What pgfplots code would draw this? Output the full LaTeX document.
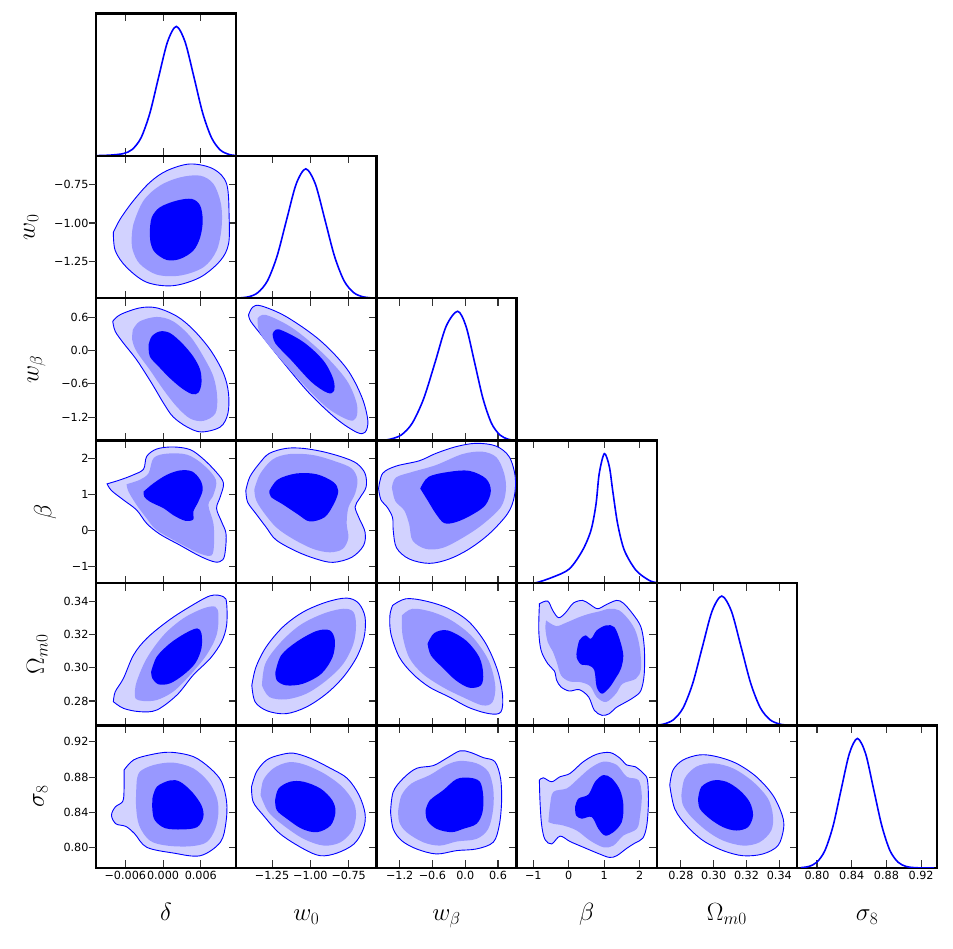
\documentclass[border=0pt]{standalone}
\usepackage{fontspec}
\setsansfont{DejaVu Sans}
\usepackage{pgfplots}
\pgfplotsset{compat=1.18}
\definecolor{cL}{RGB}{210,210,255}
\definecolor{cM}{RGB}{152,152,255}
\definecolor{cB}{RGB}{0,0,255}
\pgfplotsset{
 cp/.style={scale only axis, width=140.2pt, height=142.4pt, anchor=north west,
  axis line style={line width=2.4pt, black},
  tick align=inside, major tick length=7.5pt,
  tick style={line width=1.1pt, black!80},
  xtick pos=both, ytick pos=right,
  scaled ticks=false,
  xticklabel={\relax}, yticklabel={\relax},
  tick label style={font=\sffamily\fontsize{11.2}{13}\selectfont},
  xlabel style={at={(axis description cs:0.5,0)}, anchor=base, yshift=-53pt, font=\fontsize{24}{28}\selectfont},
  ylabel style={font=\fontsize{24}{28}\selectfont},
 },
 ov/.style={hide x axis, ytick pos=left, tick align=outside, y axis line style={draw=none},
  yticklabel style={xshift=3.5pt}, ylabel shift=9pt},
 Xd/.style={xmin=-0.01066,xmax=0.01162,xtick={-0.006,0,0.006}},
 Xw/.style={xmin=-1.484,xmax=-0.569,xtick={-1.25,-1,-0.75}},
 Xb/.style={xmin=-1.625,xmax=0.94,xtick={-1.2,-0.6,0,0.6}},
 XB/.style={xmin=-1.47,xmax=2.485,xtick={-1,0,1,2}},
 XO/.style={xmin=0.2653,xmax=0.3508,xtick={0.28,0.30,0.32,0.34}},
 Xs/.style={xmin=0.777,xmax=0.9385,xtick={0.80,0.84,0.88,0.92}},
 Yw/.style={ymin=-1.484,ymax=-0.569,ytick={-1.25,-1,-0.75}},
 Yb/.style={ymin=-1.625,ymax=0.94,ytick={-1.2,-0.6,0,0.6}},
 YB/.style={ymin=-1.47,ymax=2.485,ytick={-1,0,1,2}},
 YO/.style={ymin=0.2653,ymax=0.3508,ytick={0.28,0.30,0.32,0.34}},
 Ys/.style={ymin=0.777,ymax=0.9385,ytick={0.80,0.84,0.88,0.92}},
 Yd/.style={ymin=0,ymax=1.1,ytick=\empty},
 LXd/.style={xticklabels={−0.006,0.000,0.006},xlabel={$\delta$}},
 LXw/.style={xticklabels={−1.25,−1.00,−0.75},xlabel={$w_0$}},
 LXb/.style={xticklabels={−1.2,−0.6,0.0,0.6},xlabel={$w_\beta$}},
 LXB/.style={xticklabels={−1,0,1,2},xlabel={$\beta$}},
 LXO/.style={xticklabels={0.28,0.30,0.32,0.34},xlabel={$\Omega_{m0}$}},
 LXs/.style={xticklabels={0.80,0.84,0.88,0.92},xlabel={$\sigma_8$}},
 LYw/.style={yticklabels={−1.25,−1.00,−0.75},ylabel={$w_0$}},
 LYb/.style={yticklabels={−1.2,−0.6,0.0,0.6},ylabel={$w_\beta$}},
 LYB/.style={yticklabels={−1,0,1,2},ylabel={$\beta$}},
 LYO/.style={yticklabels={0.28,0.30,0.32,0.34},ylabel={$\Omega_{m0}$}},
 LYs/.style={yticklabels={0.80,0.84,0.88,0.92},ylabel={$\sigma_8$}},
 c1/.style={fill=cL, draw=cB, line width=0.9pt, smooth, tension=0.55},
 c2/.style={fill=cM, draw=none, smooth, tension=0.55},
 c3/.style={fill=cB, draw=none, smooth, tension=0.55},
 dg/.style={cB, line width=1.6pt, smooth, tension=0.5},
}
\begin{document}
\begin{tikzpicture}
\useasboundingbox (0,0) rectangle (953pt,948pt);
% ---------- diagonal panels ----------
\begin{axis}[cp, Xd, Yd, at={(96pt,934.5pt)}]
\addplot[dg] coordinates {(-0.0107,0.002) (-0.0084,0.006) (-0.0063,0.018) (-0.0049,0.05) (-0.0035,0.14) (-0.0021,0.33) (-0.0007,0.61) (0.0007,0.88) (0.0021,1) (0.0035,0.88) (0.0049,0.61) (0.0063,0.33) (0.0077,0.14) (0.0091,0.045) (0.0105,0.011) (0.0116,0.003)};
\end{axis}
\begin{axis}[cp, Xw, Yd, at={(236.2pt,792.1pt)}]
\addplot[dg] coordinates {(-1.484,0.001) (-1.405,0.011) (-1.3425,0.044) (-1.28,0.135) (-1.2175,0.325) (-1.155,0.607) (-1.0925,0.883) (-1.03,1) (-0.9675,0.883) (-0.905,0.607) (-0.8425,0.325) (-0.78,0.135) (-0.7175,0.044) (-0.655,0.011) (-0.58,0.0015)};
\end{axis}
\begin{axis}[cp, Xb, Yd, at={(376.4pt,649.7pt)}]
\addplot[dg] coordinates {(-1.625,0.0005) (-1.55,0.002) (-1.38,0.011) (-1.17,0.044) (-0.97,0.135) (-0.76,0.325) (-0.55,0.607) (-0.35,0.883) (-0.14,1) (0.015,0.883) (0.17,0.607) (0.325,0.325) (0.48,0.135) (0.635,0.044) (0.79,0.011) (0.93,0.002)};
\end{axis}
\begin{axis}[cp, XB, Yd, at={(516.6pt,507.3pt)}]
\addplot[dg] coordinates {(-1.4,0.0) (-0.97,0.0) (-0.45,0.046) (0.02,0.11) (0.39,0.253) (0.63,0.41) (0.77,0.61) (0.86,0.845) (1.005,1.0) (1.146,0.9) (1.24,0.716) (1.38,0.458) (1.57,0.253) (1.90,0.098) (2.27,0.021) (2.46,0.005)};
\end{axis}
\begin{axis}[cp, XO, Yd, at={(656.8pt,364.9pt)}]
\addplot[dg] coordinates {(0.2648,0.003) (0.2695,0.011) (0.2754,0.044) (0.2813,0.135) (0.2872,0.325) (0.2931,0.607) (0.2990,0.883) (0.3049,1) (0.3108,0.883) (0.3167,0.607) (0.3226,0.325) (0.3285,0.135) (0.3344,0.044) (0.3403,0.011) (0.3462,0.002) (0.3521,0.0003)};
\end{axis}
\begin{axis}[cp, Xs, Yd, LXs, at={(797pt,222.5pt)}]
\addplot[dg] coordinates {(0.7812,0.002) (0.7905,0.011) (0.7999,0.044) (0.8092,0.135) (0.8186,0.325) (0.8279,0.607) (0.8373,0.883) (0.8466,1) (0.8560,0.883) (0.8653,0.607) (0.8747,0.325) (0.8840,0.135) (0.8934,0.044) (0.9027,0.011) (0.9121,0.002) (0.9214,0.0003) (0.935,0)};
\end{axis}
% ---------- row 1 ----------
\begin{axis}[cp, Xd, Yw, at={(96pt,792.1pt)}]
\addplot[c1] coordinates {(-0.0079,-1.060) (-0.0068,-0.974) (-0.0047,-0.856) (-0.0021,-0.739) (0.0006,-0.664) (0.0043,-0.621) (0.0080,-0.653) (0.0101,-0.749) (0.0105,-0.964) (0.0104,-1.135) (0.0091,-1.242) (0.0059,-1.349) (0.0016,-1.403) (-0.0026,-1.381) (-0.0058,-1.285) (-0.0076,-1.178) (-0.0079,-1.060)} --cycle;
\addplot[c2] coordinates {(-0.0050,-1.114) (-0.0047,-1.006) (-0.0031,-0.856) (-0.0005,-0.760) (0.0027,-0.707) (0.0059,-0.696) (0.0080,-0.749) (0.0092,-0.878) (0.0093,-1.028) (0.0085,-1.178) (0.0064,-1.285) (0.0027,-1.338) (-0.0010,-1.332) (-0.0037,-1.263) (-0.0048,-1.178) (-0.0050,-1.114)} --cycle;
\addplot[c3] coordinates {(-0.0021,-1.049) (-0.0018,-0.964) (-0.0005,-0.899) (0.0022,-0.856) (0.0046,-0.846) (0.0059,-0.889) (0.0063,-0.985) (0.0059,-1.092) (0.0048,-1.178) (0.0027,-1.231) (0.0006,-1.238) (-0.0013,-1.189) (-0.0020,-1.124) (-0.0021,-1.049)} --cycle;
\end{axis}
\begin{axis}[cp, Xd, Yw, LYw, ov, at={(96pt,792.1pt)}]
\end{axis}
% ---------- row 2 ----------
\begin{axis}[cp, Xd, Yb, at={(96pt,649.7pt)}]
\addplot[c1] coordinates {(-0.0080,0.525) (-0.0068,0.646) (-0.0037,0.767) (-0.0010,0.767) (0.0022,0.616) (0.0048,0.374) (0.0075,0.012) (0.0096,-0.411) (0.0104,-0.773) (0.0103,-1.136) (0.0091,-1.377) (0.0061,-1.468) (0.0038,-1.377) (0.0016,-1.196) (0.0001,-0.954) (-0.0018,-0.592) (-0.0042,-0.169) (-0.0063,0.133) (-0.0076,0.344) (-0.0080,0.525)} --cycle;
\addplot[c2] coordinates {(-0.0048,0.374) (-0.0037,0.525) (-0.0010,0.604) (0.0016,0.525) (0.0043,0.254) (0.0064,-0.109) (0.0080,-0.471) (0.0086,-0.834) (0.0083,-1.136) (0.0064,-1.268) (0.0043,-1.226) (0.0022,-1.015) (0.0001,-0.713) (-0.0021,-0.350) (-0.0042,-0.018) (-0.0049,0.193) (-0.0048,0.374)} --cycle;
\addplot[c3] coordinates {(-0.0023,0.103) (-0.0018,0.254) (-0.0005,0.344) (0.0011,0.314) (0.0030,0.133) (0.0048,-0.109) (0.0059,-0.350) (0.0061,-0.592) (0.0056,-0.761) (0.0046,-0.785) (0.0030,-0.683) (0.0011,-0.501) (-0.0007,-0.290) (-0.0021,-0.109) (-0.0023,0.103)} --cycle;
\end{axis}
\begin{axis}[cp, Xd, Yb, LYb, ov, at={(96pt,649.7pt)}]
\end{axis}
\begin{axis}[cp, Xw, Yb, at={(236.2pt,649.7pt)}]
\addplot[c1] coordinates {(-1.4035,0.640) (-1.377,0.779) (-1.322,0.804) (-1.158,0.610) (-0.939,0.187) (-0.763,-0.326) (-0.664,-0.840) (-0.625,-1.263) (-0.643,-1.474) (-0.697,-1.474) (-0.829,-1.233) (-1.004,-0.779) (-1.180,-0.205) (-1.311,0.248) (-1.388,0.520) (-1.4035,0.640)} --cycle;
\addplot[c2] coordinates {(-1.344,0.580) (-1.289,0.640) (-1.114,0.399) (-0.917,-0.054) (-0.763,-0.538) (-0.697,-0.961) (-0.702,-1.214) (-0.752,-1.251) (-0.895,-1.021) (-1.070,-0.538) (-1.246,0.006) (-1.333,0.338) (-1.344,0.580)} --cycle;
\addplot[c3] coordinates {(-1.246,0.296) (-1.206,0.381) (-1.048,0.157) (-0.917,-0.175) (-0.851,-0.508) (-0.846,-0.731) (-0.890,-0.761) (-0.993,-0.568) (-1.125,-0.175) (-1.228,0.127) (-1.246,0.296)} --cycle;
\end{axis}
% ---------- row 3 ----------
\begin{axis}[cp, Xd, YB, at={(96pt,507.3pt)}]
\addplot[c1] coordinates {(-0.0089,1.286) (-0.0068,1.398) (-0.0047,1.538) (-0.0031,1.696) (-0.0026,2.050) (-0.0010,2.255) (0.0016,2.311) (0.0043,2.237) (0.0064,1.976) (0.0085,1.603) (0.0096,1.305) (0.0091,0.932) (0.0085,0.606) (0.0093,0.233) (0.0100,-0.093) (0.0099,-0.559) (0.0095,-0.820) (0.0083,-0.885) (0.0059,-0.727) (0.0027,-0.419) (-0.0005,-0.112) (-0.0026,0.186) (-0.0042,0.559) (-0.0063,0.839) (-0.0082,1.100) (-0.0089,1.286)} --cycle;
\addplot[c2] coordinates {(-0.0058,1.277) (-0.0037,1.398) (-0.0023,1.584) (-0.0015,2.004) (0.0006,2.125) (0.0038,2.097) (0.0064,1.817) (0.0084,1.398) (0.0080,0.979) (0.0072,0.699) (0.0080,0.186) (0.0081,-0.373) (0.0077,-0.699) (0.0059,-0.652) (0.0027,-0.373) (-0.0010,0.000) (-0.0026,0.326) (-0.0042,0.699) (-0.0055,1.072) (-0.0058,1.277)} --cycle;
\addplot[c3] coordinates {(-0.0031,1.072) (-0.0015,1.305) (0.0006,1.538) (0.0027,1.659) (0.0046,1.631) (0.0059,1.398) (0.0063,1.118) (0.0056,0.792) (0.0048,0.513) (0.0048,0.298) (0.0035,0.261) (0.0016,0.419) (0.0001,0.606) (-0.0021,0.792) (-0.0030,0.932) (-0.0031,1.072)} --cycle;
\end{axis}
\begin{axis}[cp, Xd, YB, LYB, ov, at={(96pt,507.3pt)}]
\end{axis}
\begin{axis}[cp, Xw, YB, at={(236.2pt,507.3pt)}]
\addplot[c1] coordinates {(-1.421,1.108) (-1.395,1.480) (-1.333,1.853) (-1.268,2.132) (-1.158,2.272) (-1.048,2.272) (-0.917,2.179) (-0.785,2.020) (-0.697,1.853) (-0.643,1.574) (-0.636,1.201) (-0.680,0.875) (-0.708,0.642) (-0.680,0.317) (-0.643,-0.056) (-0.653,-0.428) (-0.730,-0.754) (-0.851,-0.894) (-0.961,-0.801) (-1.092,-0.587) (-1.224,-0.270) (-1.289,0.084) (-1.355,0.456) (-1.410,0.782) (-1.421,1.108)} --cycle;
\addplot[c2] coordinates {(-1.366,1.127) (-1.329,1.555) (-1.246,1.965) (-1.136,2.114) (-0.982,2.086) (-0.829,1.899) (-0.730,1.713) (-0.693,1.406) (-0.708,1.015) (-0.752,0.624) (-0.763,0.177) (-0.752,-0.214) (-0.789,-0.521) (-0.873,-0.615) (-0.982,-0.521) (-1.114,-0.242) (-1.224,0.084) (-1.311,0.531) (-1.355,0.847) (-1.366,1.127)} --cycle;
\addplot[c3] coordinates {(-1.268,1.089) (-1.213,1.406) (-1.092,1.574) (-0.961,1.555) (-0.851,1.341) (-0.818,1.089) (-0.846,0.736) (-0.906,0.363) (-1.004,0.242) (-1.081,0.438) (-1.180,0.717) (-1.257,0.922) (-1.268,1.089)} --cycle;
\end{axis}
\begin{axis}[cp, Xb, YB, at={(376.4pt,507.3pt)}]
\addplot[c1] coordinates {(-1.585,1.155) (-1.512,1.574) (-1.268,1.778) (-0.841,1.927) (-0.537,2.132) (-0.171,2.318) (0.195,2.412) (0.561,2.337) (0.805,2.039) (0.915,1.480) (0.896,0.922) (0.774,0.456) (0.439,-0.102) (0.073,-0.521) (-0.293,-0.801) (-0.658,-0.922) (-1.024,-0.801) (-1.256,-0.493) (-1.317,-0.009) (-1.329,0.345) (-1.421,0.624) (-1.543,0.847) (-1.585,1.155)} --cycle;
\addplot[c2] coordinates {(-1.341,1.183) (-1.268,1.462) (-0.963,1.620) (-0.537,1.806) (-0.049,2.114) (0.317,2.179) (0.573,2.020) (0.713,1.574) (0.744,1.108) (0.652,0.642) (0.317,0.158) (-0.049,-0.214) (-0.415,-0.493) (-0.719,-0.521) (-0.963,-0.289) (-1.024,0.158) (-1.116,0.549) (-1.280,0.810) (-1.341,1.183)} --cycle;
\addplot[c3] coordinates {(-0.823,1.155) (-0.671,1.480) (-0.293,1.620) (0.073,1.648) (0.378,1.434) (0.469,1.089) (0.366,0.689) (0.104,0.410) (-0.171,0.223) (-0.384,0.196) (-0.537,0.456) (-0.689,0.829) (-0.823,1.155)} --cycle;
\end{axis}
% ---------- row 4 ----------
\begin{axis}[cp, Xd, YO, at={(96pt,364.9pt)}]
\addplot[c1] coordinates {(-0.0079,0.2796) (-0.0076,0.2856) (-0.0063,0.2936) (-0.0047,0.3076) (-0.0026,0.3176) (0.0006,0.3276) (0.0038,0.3356) (0.0075,0.3432) (0.0096,0.3426) (0.0101,0.3386) (0.0101,0.3256) (0.0093,0.3156) (0.0075,0.3056) (0.0048,0.2956) (0.0022,0.2836) (-0.0010,0.2746) (-0.0037,0.2736) (-0.0063,0.2756) (-0.0079,0.2796)} --cycle;
\addplot[c2] coordinates {(-0.0045,0.2846) (-0.0042,0.2916) (-0.0026,0.3056) (0.0001,0.3196) (0.0032,0.3296) (0.0064,0.3356) (0.0083,0.3366) (0.0088,0.3316) (0.0085,0.3196) (0.0069,0.3076) (0.0043,0.2956) (0.0016,0.2856) (-0.0010,0.2806) (-0.0031,0.2800) (-0.0043,0.2812) (-0.0045,0.2846)} --cycle;
\addplot[c3] coordinates {(-0.0019,0.2976) (-0.0010,0.3066) (0.0011,0.3146) (0.0035,0.3206) (0.0054,0.3236) (0.0061,0.3206) (0.0061,0.3116) (0.0051,0.3026) (0.0032,0.2956) (0.0011,0.2906) (-0.0007,0.2900) (-0.0017,0.2936) (-0.0019,0.2976)} --cycle;
\end{axis}
\begin{axis}[cp, Xd, YO, LYO, ov, at={(96pt,364.9pt)}]
\end{axis}
\begin{axis}[cp, Xw, YO, at={(236.2pt,364.9pt)}]
\addplot[c1] coordinates {(-1.382,0.2894) (-1.355,0.3004) (-1.289,0.3124) (-1.180,0.3244) (-1.048,0.3334) (-0.895,0.3394) (-0.763,0.3418) (-0.686,0.3388) (-0.643,0.3304) (-0.649,0.3184) (-0.697,0.3064) (-0.785,0.2944) (-0.895,0.2844) (-1.026,0.2764) (-1.158,0.2724) (-1.279,0.2740) (-1.360,0.2794) (-1.382,0.2894)} --cycle;
\addplot[c2] coordinates {(-1.316,0.2894) (-1.294,0.3024) (-1.202,0.3144) (-1.070,0.3254) (-0.917,0.3324) (-0.785,0.3354) (-0.719,0.3334) (-0.702,0.3254) (-0.719,0.3144) (-0.785,0.3024) (-0.895,0.2924) (-1.026,0.2844) (-1.158,0.2810) (-1.268,0.2824) (-1.316,0.2894)} --cycle;
\addplot[c3] coordinates {(-1.228,0.2974) (-1.191,0.3074) (-1.092,0.3154) (-0.961,0.3220) (-0.873,0.3224) (-0.840,0.3164) (-0.855,0.3064) (-0.928,0.2964) (-1.048,0.2904) (-1.158,0.2894) (-1.219,0.2924) (-1.228,0.2974)} --cycle;
\end{axis}
\begin{axis}[cp, Xb, YO, at={(376.4pt,364.9pt)}]
\addplot[c1] coordinates {(-1.329,0.3374) (-1.085,0.3414) (-0.719,0.3400) (-0.293,0.3354) (0.073,0.3274) (0.378,0.3144) (0.591,0.2984) (0.683,0.2834) (0.652,0.2734) (0.439,0.2724) (0.073,0.2760) (-0.293,0.2824) (-0.658,0.2884) (-0.963,0.2964) (-1.207,0.3064) (-1.360,0.3204) (-1.378,0.3314) (-1.329,0.3374)} --cycle;
\addplot[c2] coordinates {(-1.158,0.3314) (-0.963,0.3354) (-0.598,0.3334) (-0.232,0.3280) (0.134,0.3184) (0.427,0.3044) (0.549,0.2894) (0.500,0.2794) (0.317,0.2774) (-0.049,0.2824) (-0.415,0.2884) (-0.780,0.2964) (-1.024,0.3060) (-1.146,0.3194) (-1.158,0.3314)} --cycle;
\addplot[c3] coordinates {(-0.689,0.3144) (-0.567,0.3208) (-0.323,0.3224) (0.012,0.3164) (0.256,0.3064) (0.329,0.2964) (0.287,0.2894) (0.073,0.2880) (-0.171,0.2924) (-0.415,0.3000) (-0.628,0.3074) (-0.689,0.3144)} --cycle;
\end{axis}
\begin{axis}[cp, XB, YO, at={(516.6pt,364.9pt)}]
\addplot[c1] coordinates {(-0.826,0.3384) (-0.592,0.3400) (-0.451,0.3344) (-0.282,0.3300) (-0.075,0.3334) (0.131,0.3388) (0.394,0.3404) (0.601,0.3380) (0.817,0.3354) (1.070,0.3380) (1.352,0.3404) (1.540,0.3388) (1.803,0.3324) (2.038,0.3244) (2.131,0.3124) (2.131,0.2964) (2.038,0.2864) (1.850,0.2824) (1.615,0.2794) (1.333,0.2760) (1.146,0.2724) (0.939,0.2714) (0.723,0.2744) (0.563,0.2824) (0.300,0.2868) (0.019,0.2860) (-0.216,0.2884) (-0.338,0.2924) (-0.404,0.2980) (-0.592,0.3024) (-0.779,0.3104) (-0.845,0.3224) (-0.826,0.3384)} --cycle;
\addplot[c2] coordinates {(-0.638,0.3284) (-0.357,0.3250) (-0.075,0.3270) (0.300,0.3304) (0.582,0.3324) (0.864,0.3338) (1.146,0.3354) (1.427,0.3344) (1.709,0.3284) (1.897,0.3214) (2.009,0.3114) (2.038,0.2994) (1.897,0.2934) (1.521,0.2904) (1.333,0.2844) (1.052,0.2794) (0.789,0.2824) (0.601,0.2890) (0.319,0.2914) (0.019,0.2918) (-0.216,0.2954) (-0.338,0.3034) (-0.451,0.3098) (-0.592,0.3154) (-0.657,0.3234) (-0.638,0.3284)} --cycle;
\addplot[c3] coordinates {(0.225,0.3094) (0.300,0.3164) (0.469,0.3194) (0.629,0.3174) (0.789,0.3224) (1.052,0.3254) (1.286,0.3244) (1.446,0.3164) (1.540,0.3074) (1.474,0.2994) (1.333,0.2940) (1.146,0.2880) (0.939,0.2844) (0.789,0.2884) (0.723,0.2984) (0.563,0.3014) (0.347,0.3020) (0.225,0.3060) (0.225,0.3094)} --cycle;
\end{axis}
% ---------- row 5 ----------
\begin{axis}[cp, Xd, Ys, LXd, at={(96pt,222.5pt)}]
\addplot[c1] coordinates {(-0.0062,0.8880) (-0.0047,0.8994) (-0.0021,0.9052) (0.0011,0.9082) (0.0048,0.9032) (0.0075,0.8899) (0.0093,0.8747) (0.0101,0.8518) (0.0100,0.8290) (0.0091,0.8061) (0.0059,0.7908) (0.0016,0.7939) (-0.0026,0.8004) (-0.0045,0.8156) (-0.0059,0.8240) (-0.0075,0.8270) (-0.0082,0.8366) (-0.0076,0.8461) (-0.0064,0.8526) (-0.0062,0.8671) (-0.0062,0.8880)} --cycle;
\addplot[c2] coordinates {(-0.0042,0.8747) (-0.0037,0.8861) (-0.0015,0.8937) (0.0016,0.8964) (0.0048,0.8899) (0.0072,0.8747) (0.0085,0.8575) (0.0088,0.8404) (0.0083,0.8213) (0.0069,0.8061) (0.0043,0.8015) (0.0006,0.8023) (-0.0021,0.8080) (-0.0038,0.8251) (-0.0043,0.8480) (-0.0042,0.8747)} --cycle;
\addplot[c3] coordinates {(-0.0017,0.8556) (-0.0010,0.8690) (0.0011,0.8762) (0.0027,0.8747) (0.0046,0.8632) (0.0061,0.8480) (0.0064,0.8347) (0.0054,0.8232) (0.0030,0.8206) (0.0003,0.8221) (-0.0013,0.8309) (-0.0017,0.8423) (-0.0017,0.8556)} --cycle;
\end{axis}
\begin{axis}[cp, Xd, Ys, LYs, ov, at={(96pt,222.5pt)}]
\end{axis}
\begin{axis}[cp, Xw, Ys, LXw, at={(236.2pt,222.5pt)}]
\addplot[c1] coordinates {(-1.384,0.8690) (-1.351,0.8861) (-1.285,0.8994) (-1.197,0.9052) (-1.110,0.9071) (-1.000,0.9013) (-0.868,0.8899) (-0.759,0.8785) (-0.682,0.8594) (-0.643,0.8385) (-0.654,0.8213) (-0.715,0.8042) (-0.825,0.7939) (-0.934,0.7908) (-1.044,0.7985) (-1.197,0.8156) (-1.307,0.8366) (-1.373,0.8518) (-1.384,0.8690)} --cycle;
\addplot[c2] coordinates {(-1.325,0.8594) (-1.307,0.8766) (-1.241,0.8899) (-1.143,0.8968) (-1.044,0.8945) (-0.912,0.8842) (-0.792,0.8690) (-0.719,0.8518) (-0.702,0.8366) (-0.726,0.8194) (-0.803,0.8061) (-0.912,0.8023) (-1.044,0.8099) (-1.175,0.8251) (-1.274,0.8404) (-1.325,0.8594)} --cycle;
\addplot[c3] coordinates {(-1.230,0.8537) (-1.208,0.8670) (-1.132,0.8747) (-1.044,0.8747) (-0.934,0.8670) (-0.857,0.8537) (-0.836,0.8404) (-0.868,0.8251) (-0.956,0.8175) (-1.055,0.8213) (-1.154,0.8328) (-1.219,0.8423) (-1.230,0.8537)} --cycle;
\end{axis}
\begin{axis}[cp, Xb, Ys, LXb, at={(376.4pt,222.5pt)}]
\addplot[c1] coordinates {(-1.366,0.8404) (-1.318,0.8632) (-1.135,0.8785) (-0.891,0.8899) (-0.586,0.8930) (-0.342,0.9013) (-0.098,0.9097) (0.085,0.9082) (0.329,0.9021) (0.543,0.8975) (0.647,0.8785) (0.665,0.8518) (0.622,0.8251) (0.512,0.8061) (0.207,0.7985) (-0.159,0.7966) (-0.525,0.7928) (-0.891,0.7985) (-1.165,0.8080) (-1.318,0.8213) (-1.366,0.8404)} --cycle;
\addplot[c2] coordinates {(-1.226,0.8423) (-1.165,0.8594) (-0.982,0.8728) (-0.647,0.8823) (-0.342,0.8937) (-0.098,0.8983) (0.207,0.8956) (0.421,0.8861) (0.512,0.8671) (0.512,0.8442) (0.421,0.8213) (0.207,0.8099) (-0.159,0.8069) (-0.464,0.8023) (-0.769,0.8061) (-1.074,0.8175) (-1.208,0.8290) (-1.226,0.8423)} --cycle;
\addplot[c3] coordinates {(-0.726,0.8423) (-0.647,0.8537) (-0.403,0.8651) (-0.159,0.8777) (0.085,0.8792) (0.268,0.8747) (0.329,0.8594) (0.317,0.8404) (0.207,0.8270) (-0.037,0.8213) (-0.250,0.8175) (-0.525,0.8213) (-0.695,0.8309) (-0.726,0.8423)} --cycle;
\end{axis}
\begin{axis}[cp, XB, Ys, LXB, at={(516.6pt,222.5pt)}]
\addplot[c1] coordinates {(-0.828,0.8766) (-0.715,0.8792) (-0.480,0.8747) (-0.245,0.8804) (0.038,0.8842) (0.414,0.8975) (0.790,0.9059) (1.167,0.9078) (1.449,0.9013) (1.637,0.8937) (1.873,0.8918) (2.108,0.8842) (2.221,0.8766) (2.249,0.8518) (2.202,0.8251) (2.089,0.8107) (1.873,0.8053) (1.637,0.7992) (1.355,0.7908) (1.148,0.7889) (0.866,0.7928) (0.414,0.8004) (0.038,0.8069) (-0.245,0.8130) (-0.480,0.8042) (-0.668,0.8091) (-0.762,0.8251) (-0.809,0.8518) (-0.828,0.8766)} --cycle;
\addplot[c2] coordinates {(-0.574,0.8290) (-0.527,0.8480) (-0.433,0.8632) (-0.056,0.8671) (0.226,0.8766) (0.602,0.8899) (0.979,0.8975) (1.355,0.8937) (1.637,0.8804) (1.967,0.8766) (2.061,0.8594) (2.014,0.8366) (1.920,0.8213) (1.543,0.8137) (1.261,0.8023) (0.979,0.8004) (0.602,0.8080) (0.226,0.8194) (-0.151,0.8251) (-0.433,0.8270) (-0.574,0.8290)} --cycle;
\addplot[c3] coordinates {(0.179,0.8461) (0.273,0.8556) (0.555,0.8602) (0.743,0.8747) (0.979,0.8823) (1.214,0.8785) (1.449,0.8651) (1.543,0.8480) (1.496,0.8290) (1.261,0.8175) (1.026,0.8137) (0.837,0.8213) (0.649,0.8347) (0.367,0.8328) (0.207,0.8366) (0.179,0.8461)} --cycle;
\end{axis}
\begin{axis}[cp, XO, Ys, LXO, at={(656.8pt,222.5pt)}]
\addplot[c1] coordinates {(0.2732,0.8709) (0.2752,0.8880) (0.2813,0.8994) (0.2915,0.9052) (0.3016,0.9033) (0.3138,0.8956) (0.3260,0.8804) (0.3361,0.8594) (0.3418,0.8366) (0.3426,0.8213) (0.3392,0.8023) (0.3300,0.7928) (0.3179,0.7908) (0.3057,0.7966) (0.2935,0.8080) (0.2834,0.8251) (0.2762,0.8442) (0.2732,0.8709)} --cycle;
\addplot[c2] coordinates {(0.2803,0.8594) (0.2823,0.8785) (0.2894,0.8918) (0.2996,0.8956) (0.3118,0.8899) (0.3240,0.8747) (0.3331,0.8556) (0.3361,0.8366) (0.3351,0.8194) (0.3280,0.8061) (0.3179,0.8023) (0.3057,0.8080) (0.2955,0.8194) (0.2864,0.8347) (0.2813,0.8480) (0.2803,0.8594)} --cycle;
\addplot[c3] coordinates {(0.2905,0.8556) (0.2925,0.8690) (0.2996,0.8762) (0.3077,0.8747) (0.3158,0.8651) (0.3219,0.8518) (0.3240,0.8366) (0.3209,0.8232) (0.3138,0.8194) (0.3057,0.8232) (0.2976,0.8328) (0.2915,0.8442) (0.2905,0.8556)} --cycle;
\end{axis}
\end{tikzpicture}
\end{document}
